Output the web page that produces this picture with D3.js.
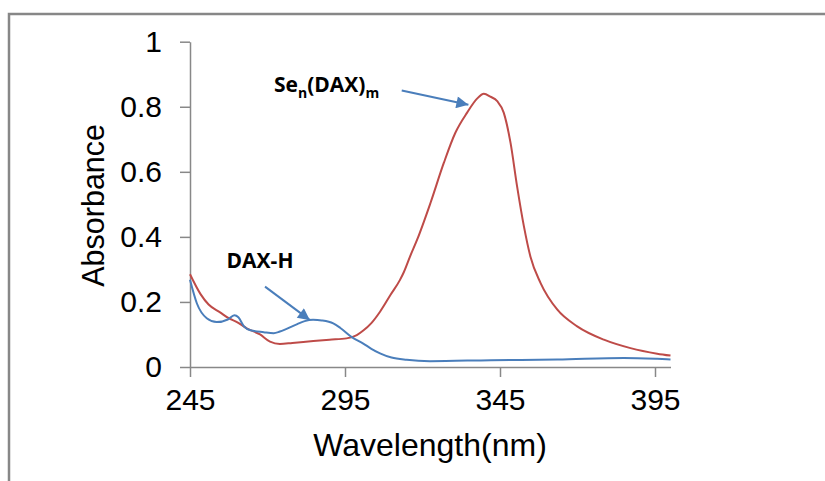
<html>
<head>
    <title>absorbance</title>
</head>
<body style="margin: 0; background: #fff;">
    <svg></svg>
</body>

<script src="https://cdn.jsdelivr.net/npm/d3@7"></script>
<script>
const width = 825;
const height = 481;

// Sen(DAX)m spectrum
const seWl  = [245, 248.4, 251, 254.7, 257.5, 260, 263.3, 267.6, 270.8, 274, 278, 284.8, 290, 295.5, 298.8, 300.9, 303.5, 306.3, 309.7, 312.7, 314, 316, 318.3, 322.6, 326.9, 330.6, 334.4, 337.6, 339.8, 341.9, 344.1, 346.2, 348.4, 350.5, 352.7, 354.8, 358.1, 363.5, 369.9, 378.5, 387.1, 395.7, 400];
const seAbs = [0.285, 0.224, 0.192, 0.168, 0.150, 0.139, 0.119, 0.100, 0.078, 0.071, 0.074, 0.080, 0.084, 0.088, 0.098, 0.112, 0.135, 0.170, 0.222, 0.267, 0.292, 0.340, 0.392, 0.505, 0.628, 0.72, 0.782, 0.825, 0.840, 0.831, 0.817, 0.782, 0.689, 0.556, 0.433, 0.340, 0.258, 0.176, 0.125, 0.084, 0.058, 0.041, 0.035];

// DAX-H spectrum
const daxWl  = [245, 247.2, 250.4, 253.6, 257.2, 259.3, 260.6, 262.4, 264.5, 268.8, 272, 274, 279.6, 282, 284.7, 287.5, 291.2, 293.5, 297.2, 300.9, 303.5, 306.3, 310, 314.9, 322.4, 342, 363.5, 385, 395.7, 400];
const daxAbs = [0.268, 0.196, 0.15, 0.138, 0.146, 0.159, 0.153, 0.125, 0.113, 0.107, 0.104, 0.109, 0.132, 0.141, 0.145, 0.143, 0.134, 0.12, 0.092, 0.072, 0.056, 0.042, 0.029, 0.022, 0.018, 0.021, 0.023, 0.028, 0.025, 0.023];

const xTicks = [245, 295, 345, 395];
const yTicks = [0, 0.2, 0.4, 0.6, 0.8, 1];

const svg = d3.select("svg")
    .attr("width", width)
    .attr("height", height)
    .style("font-family", "'Liberation Sans', Arial, sans-serif");

svg.append("rect")
    .attr("x", 9).attr("y", 14)
    .attr("width", 840).attr("height", 500)
    .attr("fill", "#fff")
    .attr("stroke", "#878787")
    .attr("stroke-width", 2.5);

const x = d3.scaleLinear().domain([245, 400]).range([190, 670.5]);
const y = d3.scaleLinear().domain([0, 1]).range([367, 41.7]);

const xAxis = svg.append("g")
    .attr("transform", `translate(0,${y(0)})`)
    .call(d3.axisBottom(x).tickValues(xTicks).tickSize(10).tickPadding(12).tickSizeOuter(0));

const yAxis = svg.append("g")
    .attr("transform", `translate(${x(245)},0)`)
    .call(d3.axisLeft(y).tickValues(yTicks).tickFormat(d3.format("~g")).tickSize(10).tickPadding(18).tickSizeOuter(0));

for (const g of [xAxis, yAxis]) {
    g.selectAll("path, line").attr("stroke", "#888").attr("stroke-width", 1.5);
    g.selectAll("text")
        .attr("fill", "#000")
        .style("font-family", "'Liberation Sans', Arial, sans-serif")
        .style("font-size", "30px");
}

svg.append("text")
    .attr("x", 430).attr("y", 456)
    .attr("text-anchor", "middle")
    .style("font-size", "32px")
    .text("Wavelength(nm)");

svg.append("text")
    .attr("transform", `translate(104,${(y(0) + y(1)) / 2 + 1}) rotate(-90)`)
    .attr("text-anchor", "middle")
    .style("font-size", "30.5px")
    .text("Absorbance");

const line = d3.line()
    .x(d => x(d[0]))
    .y(d => y(d[1]))
    .curve(d3.curveMonotoneX);

svg.append("path")
    .datum(seWl.map((w, i) => [w, seAbs[i]]))
    .attr("fill", "none")
    .attr("stroke", "#be4b48")
    .attr("stroke-width", 2)
    .attr("d", line);

svg.append("path")
    .datum(daxWl.map((w, i) => [w, daxAbs[i]]))
    .attr("fill", "none")
    .attr("stroke", "#4a7ebb")
    .attr("stroke-width", 2)
    .attr("d", line);

// annotations, in data units
svg.append("defs").append("marker")
    .attr("id", "head")
    .attr("viewBox", "0 0 10 10")
    .attr("refX", 10).attr("refY", 5)
    .attr("markerWidth", 7).attr("markerHeight", 6)
    .attr("markerUnits", "strokeWidth")
    .attr("orient", "auto")
    .append("path")
    .attr("d", "M0,0L10,5L0,10Z")
    .attr("fill", "#4a7ebb");

const arrows = [
    [313.3, 0.850, 334.8, 0.806],
    [269.2, 0.247, 283.7, 0.144]
];

svg.selectAll(".arrow")
    .data(arrows)
    .join("line")
    .attr("class", "arrow")
    .attr("x1", d => x(d[0])).attr("y1", d => y(d[1]))
    .attr("x2", d => x(d[2])).attr("y2", d => y(d[3]))
    .attr("stroke", "#4a7ebb")
    .attr("stroke-width", 2)
    .attr("marker-end", "url(#head)");

const lab = svg.append("g")
    .style("font-family", "'Open Sans', sans-serif")
    .style("font-weight", 700)
    .style("font-size", "21px");

lab.append("text")
    .attr("x", x(256.8)).attr("y", y(0.303))
    .text("DAX-H");

const se = lab.append("text")
    .attr("x", x(272.1)).attr("y", y(0.846));
se.append("tspan").text("Se");
se.append("tspan").attr("dy", 6).style("font-size", "14px").text("n");
se.append("tspan").attr("dy", -6).text("(DAX)");
se.append("tspan").attr("dy", 6).style("font-size", "14px").text("m");
</script>
</html>
